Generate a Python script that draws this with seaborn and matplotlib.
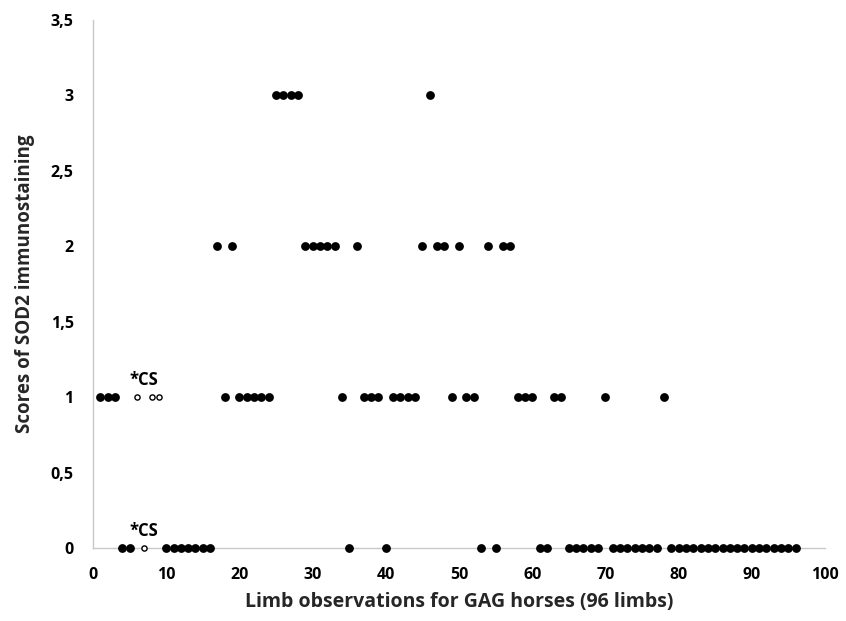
import matplotlib
matplotlib.use("Agg")
import matplotlib.pyplot as plt
import seaborn as sns
import pandas as pd

# Data: limb observation index -> SOD2 score
obs = list(range(1, 97))
scores = [1, 1, 1, 0, 0, 1, 0, 1, 1,          # 1-9
          0, 0, 0, 0, 0, 0, 0,                # 10-16
          2, 1, 2, 1, 1, 1, 1, 1,             # 17-24
          3, 3, 3, 3,                         # 25-28
          2, 2, 2, 2, 2,                      # 29-33
          1, 0, 2, 1, 1, 1, 0,                # 34-40
          1, 1, 1, 1, 2, 3, 2, 2, 1, 2,       # 41-50
          1, 1, 0, 2, 0, 2, 2,                # 51-57
          1, 1, 1, 0, 0, 1, 1,                # 58-64
          0, 0, 0, 0, 0, 1,                   # 65-70
          0, 0, 0, 0, 0, 0, 0, 1,             # 71-78
          0, 0, 0, 0, 0, 0, 0, 0, 0,          # 79-87
          0, 0, 0, 0, 0, 0, 0, 0, 0]          # 88-96
cs_obs = [6, 7, 8, 9]   # open circles (CS)
xticks = list(range(0, 101, 10))
yticks = [0, 0.5, 1, 1.5, 2, 2.5, 3, 3.5]
ytick_labels = ["0", "0,5", "1", "1,5", "2", "2,5", "3", "3,5"]

df = pd.DataFrame({"obs": obs, "score": scores})
df["cs"] = df["obs"].isin(cs_obs)

sns.set_style("white")
plt.rcParams["font.family"] = ["Open Sans", "DejaVu Sans"]

fig = plt.figure(figsize=(8.46, 6.21), dpi=100)
ax = fig.add_axes([93/846, 1 - 548/621, (825 - 93)/846, (548 - 20)/621])

filled = df[~df["cs"]]
opened = df[df["cs"]]
sns.scatterplot(data=filled, x="obs", y="score", ax=ax, color="black",
                s=40, edgecolor="black", linewidth=0, zorder=3, clip_on=False)
sns.scatterplot(data=opened, x="obs", y="score", ax=ax, facecolor="white",
                s=14, edgecolor="black", linewidth=1.0, zorder=3, clip_on=False)

# *CS annotations
for yv in sorted(set(opened["score"])):
    ax.text(7.0, yv + 0.055, "*CS", ha="center", va="bottom", fontsize=12,
            fontweight="bold", color="black")

ax.set_xlim(0, 100)
ax.set_ylim(0, 3.5)
ax.set_xticks(xticks)
ax.set_xticklabels([str(t) for t in xticks])
ax.set_yticks(yticks)
ax.set_yticklabels(ytick_labels)
ax.tick_params(axis="both", length=0, labelsize=11.5, colors="black")
ax.tick_params(axis="x", pad=14)
ax.tick_params(axis="y", pad=14)
for lab in ax.get_xticklabels() + ax.get_yticklabels():
    lab.set_fontweight("bold")

for side in ["top", "right"]:
    ax.spines[side].set_visible(False)
for side in ["left", "bottom"]:
    ax.spines[side].set_color("#c8c8c8")
    ax.spines[side].set_linewidth(1.0)
ax.grid(False)

ax.set_xlabel("Limb observations for GAG horses (96 limbs)", fontsize=14,
              fontweight="bold", labelpad=6)
ax.set_ylabel("Scores of SOD2 immunostaining", fontsize=13.5,
              fontweight="bold", labelpad=11)
if ax.get_legend():
    ax.get_legend().remove()

fig.savefig("out.png", dpi=100, facecolor="white")
